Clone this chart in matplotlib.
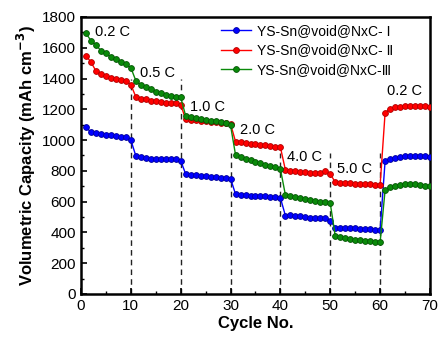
import matplotlib
matplotlib.use("Agg")
import matplotlib.pyplot as plt
import numpy as np

plt.rcParams['font.family'] = ['Liberation Sans', 'DejaVu Sans']

cycles = list(range(1, 71))

cap_I = [1085, 1050, 1046, 1040, 1035, 1030, 1025, 1020, 1018, 1000,
         897, 890, 884, 880, 878, 877, 877, 876, 874, 866,
         779, 773, 771, 768, 765, 760, 757, 755, 753, 750,
         648, 645, 643, 640, 638, 636, 634, 632, 630, 624,
         509, 514, 510, 505, 500, 497, 495, 497, 493, 476,
         431, 432, 430, 428, 426, 424, 422, 420, 418, 416,
         864, 877, 884, 890, 894, 896, 897, 896, 895, 893]

cap_II = [1548, 1507, 1449, 1430, 1417, 1402, 1395, 1390, 1387, 1360,
          1281, 1270, 1264, 1257, 1251, 1246, 1242, 1242, 1240, 1229,
          1136, 1131, 1128, 1125, 1122, 1119, 1116, 1113, 1110, 1105,
          990, 985, 980, 976, 972, 968, 965, 962, 958, 953,
          806, 800, 797, 794, 791, 789, 787, 786, 797, 780,
          726, 722, 720, 719, 718, 717, 715, 713, 711, 708,
          1178, 1205, 1212, 1218, 1220, 1221, 1222, 1221, 1220, 1218]

cap_III = [1694, 1646, 1618, 1581, 1568, 1538, 1525, 1505, 1492, 1470,
           1386, 1358, 1343, 1330, 1315, 1304, 1293, 1287, 1283, 1278,
           1157, 1148, 1142, 1136, 1131, 1127, 1123, 1118, 1114, 1095,
           903, 890, 880, 870, 860, 850, 840, 830, 822, 812,
           643, 636, 630, 624, 618, 612, 606, 600, 596, 589,
           377, 368, 362, 356, 352, 348, 345, 342, 340, 336,
           676, 693, 701, 710, 718, 718, 715, 710, 705, 699]

series_labels = ['YS-Sn@void@NxC- Ⅰ', 'YS-Sn@void@NxC- Ⅱ', 'YS-Sn@void@NxC-Ⅲ']
series_colors = ['#0000ff', '#ff0000', '#0a8a0a']
edge_colors = ['#00009a', '#b00000', '#055505']

divider_x = [10, 20, 30, 40, 50, 60]
divider_top = [1400, 1400, 915, 915, 915, 915]

rate_labels = ['0.2 C', '0.5 C', '1.0 C', '2.0 C', '4.0 C', '5.0 C', '0.2 C']
rate_x = [2.8, 11.8, 21.9, 31.9, 41.3, 51.3, 61.4]
rate_y = [1702, 1436, 1215, 1066, 890, 812, 1320]

fig = plt.figure(figsize=(4.41, 3.37), dpi=100)
ax = fig.add_axes([0.1837, 0.1276, 0.975 - 0.1837, 0.9496 - 0.1276])

ax.vlines(divider_x, 0, divider_top, colors='#222222', linestyles=(0, (4, 3)), linewidth=1.0, zorder=1)

for ys, lab, c, ec in zip([cap_I, cap_II, cap_III], series_labels, series_colors, edge_colors):
    ax.plot(cycles, ys, '-o', color=c, markerfacecolor=c, markeredgecolor=ec,
            markersize=4.2, markeredgewidth=0.6, linewidth=1.0, label=lab, zorder=3)

for t, x, y in zip(rate_labels, rate_x, rate_y):
    ax.text(x, y, t, fontsize=10.5, va='center', ha='left', color='black')

ax.set_xlim(0, 70)
ax.set_ylim(0, 1800)
ax.set_xticks(range(0, 71, 10))
ax.set_yticks(range(0, 1801, 200))
ax.set_xticks(range(5, 70, 10), minor=True)
ax.set_yticks(range(100, 1800, 200), minor=True)
ax.tick_params(axis='both', which='major', direction='in', length=4, width=1.2, labelsize=11, top=False, right=False)
ax.tick_params(axis='both', which='minor', direction='in', length=2.5, width=1.0, top=False, right=False)
for s in ax.spines.values():
    s.set_linewidth(1.8)

ax.set_xlabel('Cycle No.', fontsize=12, fontweight='bold', labelpad=2)
ax.set_ylabel('Volumetric Capacity (mAh cm$^{\\mathbf{-3}}$)', fontsize=12, fontweight='bold', labelpad=3)

leg = ax.legend(loc='upper left', bbox_to_anchor=(0.40, 0.975), frameon=False, fontsize=10,
                handlelength=2.2, handletextpad=0.4, labelspacing=0.4, borderaxespad=0.0, borderpad=0.0)

fig.savefig('out.png', dpi=100)
